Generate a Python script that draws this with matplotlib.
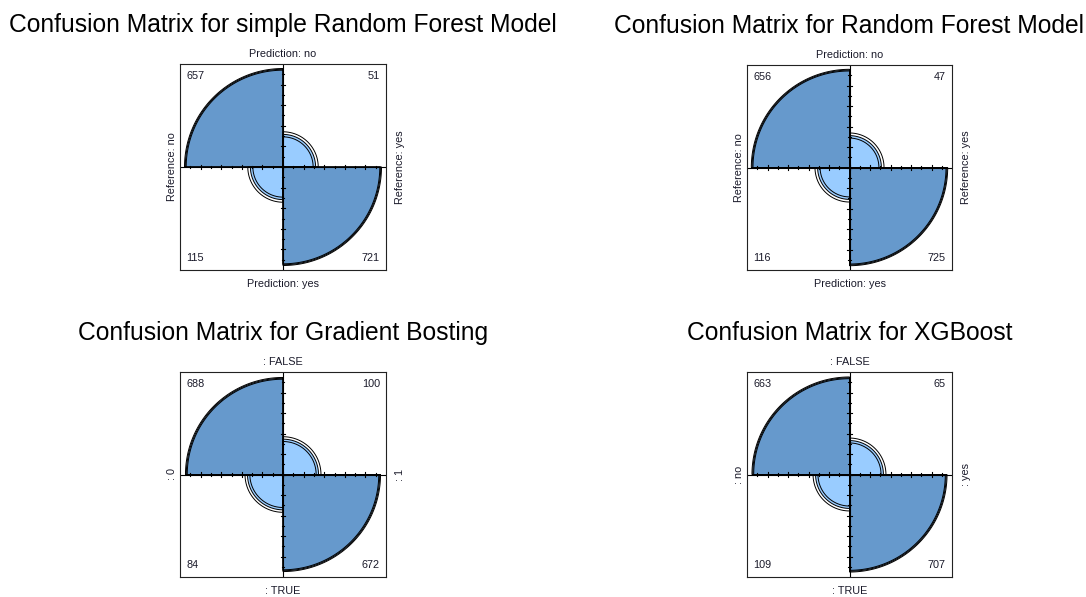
import numpy as np
import matplotlib
matplotlib.use("Agg")
import matplotlib.pyplot as plt
from matplotlib.patches import Polygon

plt.rcParams['font.family'] = ['Liberation Sans', 'DejaVu Sans']

# ---- data ----
titles = ["Confusion Matrix for simple Random Forest Model",
          "Confusion Matrix for Random Forest Model",
          "Confusion Matrix for Gradient Bosting",
          "Confusion Matrix for XGBoost"]
# counts: [top-left, top-right, bottom-left, bottom-right]
counts_rf_simple = [657, 51, 115, 721]
counts_rf = [656, 47, 116, 725]
counts_gb = [688, 100, 84, 672]
counts_xgb = [663, 65, 109, 707]
all_counts = [counts_rf_simple, counts_rf, counts_gb, counts_xgb]
top_labels = ["Prediction: no", "Prediction: no", ": FALSE", ": FALSE"]
bottom_labels = ["Prediction: yes", "Prediction: yes", ": TRUE", ": TRUE"]
left_labels = ["Reference: no", "Reference: no", ": 0", ": no"]
right_labels = ["Reference: yes", "Reference: yes", ": 1", ": yes"]

col_small = "#99CCFF"
col_big = "#6699CC"

W, H = 1086, 597
fig = plt.figure(figsize=(W / 100, H / 100), dpi=100)

# box pixel extents (left, top, right, bottom)
boxes = [(180, 64, 386, 270), (747, 65, 952, 270),
         (180, 372, 386, 577), (747, 372, 952, 577)]


def quarter(ax, r, a0, a1, fc):
    t = np.radians(np.linspace(a0, a1, 300))
    pts = np.vstack([[0, 0], np.column_stack([r * np.cos(t), r * np.sin(t)]), [0, 0]])
    ax.add_patch(Polygon(pts, closed=True, facecolor=fc, edgecolor='black',
                         lw=0.7, zorder=2))


def ring(ax, r, a0, a1):
    t = np.radians(np.linspace(a0, a1, 300))
    pts = np.vstack([[0, 0], np.column_stack([r * np.cos(t), r * np.sin(t)]), [0, 0]])
    ax.add_patch(Polygon(pts, closed=True, facecolor='none', edgecolor='black',
                         lw=0.7, zorder=3))


def std_u(theta):
    s = np.sqrt(theta)
    return s / (1 + s)


for i in range(4):
    l, t, r, b = boxes[i]
    ax = fig.add_axes([l / W, 1 - b / H, (r - l) / W, (b - t) / H])
    ax.set_xlim(-1, 1)
    ax.set_ylim(-1, 1)
    ax.set_xticks([])
    ax.set_yticks([])
    for s in ax.spines.values():
        s.set_linewidth(0.8)
        s.set_color('#222222')
        s.set_zorder(6)

    tl, tr, bl, br = all_counts[i]
    orr = tl * br / (tr * bl)
    u = std_u(orr)
    big = np.sqrt(u)
    small = np.sqrt(1 - u)
    quarter(ax, big, 90, 180, col_big)
    quarter(ax, small, 0, 90, col_small)
    quarter(ax, small, 180, 270, col_small)
    quarter(ax, big, 270, 360, col_big)

    se = np.sqrt(1 / tl + 1 / tr + 1 / bl + 1 / br)
    for z in (-1.959964, 1.959964):
        uu = std_u(orr * np.exp(z * se))
        rb, rs = np.sqrt(uu), np.sqrt(1 - uu)
        ring(ax, rb, 90, 180)
        ring(ax, rs, 0, 90)
        ring(ax, rs, 180, 270)
        ring(ax, rb, 270, 360)

    # central axes with ticks
    ax.plot([-1, 1], [0, 0], color='black', lw=0.8, zorder=5)
    ax.plot([0, 0], [-1, 1], color='black', lw=0.8, zorder=5)
    for j in np.arange(-0.8, 0.81, 0.2):
        ax.plot([j, j], [-0.022, 0.022], color='black', lw=0.8, zorder=5)
        ax.plot([-0.022, 0.022], [j, j], color='black', lw=0.8, zorder=5)
    for j in np.arange(-0.9, 0.91, 0.2):
        ax.plot([j, j], [-0.012, 0.012], color='black', lw=0.8, zorder=5)
        ax.plot([-0.012, 0.012], [j, j], color='black', lw=0.8, zorder=5)

    fs = 7.8
    tc = '#1a1a2a'
    ax.text(-0.94, 0.88, str(tl), ha='left', va='center', fontsize=fs, color=tc)
    ax.text(0.94, 0.88, str(tr), ha='right', va='center', fontsize=fs, color=tc)
    ax.text(-0.94, -0.88, str(bl), ha='left', va='center', fontsize=fs, color=tc)
    ax.text(0.94, -0.88, str(br), ha='right', va='center', fontsize=fs, color=tc)

    ax.text(0, 1.095, top_labels[i], ha='center', va='center', fontsize=fs,
            color=tc, clip_on=False)
    ax.text(0, -1.14, bottom_labels[i], ha='center', va='center', fontsize=fs,
            color=tc, clip_on=False)
    ax.text(-1.08, 0, left_labels[i], ha='center', va='center', rotation=90,
            fontsize=fs, color=tc, clip_on=False)
    ax.text(1.14, 0, right_labels[i], ha='center', va='center', rotation=90,
            fontsize=fs, color=tc, clip_on=False)

    ax.text(0, 1.377, titles[i], ha='center', va='center', fontsize=17.7,
            color='black', clip_on=False)

fig.savefig("out.png", dpi=100, facecolor='white')
